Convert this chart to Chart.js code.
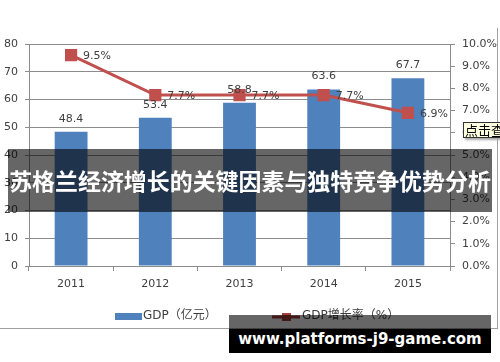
<!DOCTYPE html>
<html>
<head>
<meta charset="UTF-8">
<title>GDP</title>
<script src="https://cdn.jsdelivr.net/npm/chart.js"></script>
<style>
    body { margin: 0; background: #fff; }
    #wrap { position: relative; width: 500px; height: 362px; overflow: hidden; }
    #frame { position: absolute; left: -2px; top: 28px; width: 499px; height: 300px;
             border-right: 1px solid #a0a0a0; border-bottom: 1px solid #a0a0a0; }
    #tip { position: absolute; left: 463px; top: 122px; width: 50px; height: 14px;
           background: #ffffe1; border: 1px solid #333; box-shadow: 2px 2px 2px #aaa;
           font: 13px "Noto Sans CJK SC"; line-height: 14px; padding-left: 1px; color: #000; }
    #title { position: absolute; left: 8px; top: 149px; width: 484px; height: 63px;
             background: rgba(0,0,0,0.6); color: #fff; text-align: center;
             font-family: "Noto Sans CJK SC"; font-weight: bold; font-size: 23px;
             line-height: 63px; white-space: nowrap; overflow: hidden; }
    #mark1 { position: absolute; left: 229px; top: 315px; width: 262px; height: 14px;
             background: rgba(0,0,0,0.6); }
    #mark2 { position: absolute; left: 229px; top: 329px; width: 262px; height: 24px;
             background: #000; color: #fff; text-align: center;
             font: bold 15px "DejaVu Sans"; line-height: 20px; white-space: nowrap; }
</style>
</head>
<body>
<div id="wrap">
    <canvas id="gdpChart" width="500" height="362"></canvas>
    <div id="frame"></div>
    <div id="tip">点击查</div>
    <div id="title"><span id="titleText">苏格兰经济增长的关键因素与独特竞争优势分析</span></div>
    <div id="mark1"></div>
    <div id="mark2">www.platforms-j9-game.com</div>
</div>

<script>
    // data
    var years = ['2011', '2012', '2013', '2014', '2015'];
    var gdp = [48.4, 53.4, 58.8, 63.6, 67.7];
    var growth = [9.5, 7.7, 7.7, 7.7, 6.9];
    var gdpLabel = 'GDP（亿元）';
    var growthLabel = 'GDP增长率（%）';

    var blue = '#4f81bd';
    var red = '#c0504d';
    var txt = '#404040';
    var gridCol = '#8c8c8c';

    // shrink the overlay title so it fits its band
    (function() {
        var t = document.getElementById('titleText');
        var w = t.getBoundingClientRect().width;
        if (w > 482) {
            document.getElementById('title').style.fontSize = (23 * 482 / w) + 'px';
        }
    })();

    // value labels on bars and points
    var valueLabels = {
        id: 'valueLabels',
        afterDatasetsDraw: function(chart) {
            var ctx = chart.ctx;
            ctx.save();
            ctx.font = '11px "DejaVu Sans"';
            ctx.fillStyle = txt;
            ctx.textBaseline = 'middle';
            ctx.textAlign = 'center';
            chart.getDatasetMeta(0).data.forEach(function(bar, i) {
                ctx.fillText(gdp[i].toFixed(1), bar.x, bar.y - 13);
            });
            ctx.textAlign = 'left';
            chart.getDatasetMeta(1).data.forEach(function(pt, i) {
                ctx.fillText(growth[i].toFixed(1) + '%', pt.x + 12, pt.y + 1);
            });
            ctx.restore();
        }
    };

    // legend drawn under the x axis
    var bottomLegend = {
        id: 'bottomLegend',
        afterDraw: function(chart) {
            var ctx = chart.ctx;
            var y = 316;
            ctx.save();
            ctx.font = '12px "DejaVu Sans", "Noto Sans CJK SC"';
            ctx.textBaseline = 'middle';
            ctx.textAlign = 'left';
            // bar item
            var x = 115;
            ctx.fillStyle = chart.data.datasets[0].backgroundColor;
            ctx.fillRect(x, y - 3, 27, 7);
            ctx.fillStyle = txt;
            ctx.fillText(chart.data.datasets[0].label, x + 28, y);
            // line item
            x = 272;
            ctx.strokeStyle = '#a8403d';
            ctx.lineWidth = 3;
            ctx.beginPath();
            ctx.moveTo(x, y + 1);
            ctx.lineTo(x + 28, y + 1);
            ctx.stroke();
            ctx.fillStyle = '#a8403d';
            ctx.fillRect(x + 10, y - 3, 9, 8);
            ctx.fillStyle = txt;
            ctx.fillText(chart.data.datasets[1].label, x + 30, y);
            ctx.restore();
        }
    };

    var ctx = document.getElementById('gdpChart').getContext('2d');
    var chart = new Chart(ctx, {
        data: {
            labels: years,
            datasets: [{
                type: 'bar',
                label: gdpLabel,
                data: gdp,
                backgroundColor: blue,
                yAxisID: 'y',
                categoryPercentage: 1,
                barPercentage: 0.39,
                order: 1
            }, {
                type: 'line',
                label: growthLabel,
                data: growth,
                borderColor: red,
                backgroundColor: red,
                borderWidth: 3,
                pointStyle: 'rect',
                pointRadius: 6.5,
                pointBackgroundColor: red,
                pointBorderColor: red,
                yAxisID: 'y1',
                order: 0
            }]
        },
        options: {
            responsive: false,
            animation: false,
            layout: { padding: { top: 44, bottom: 70, left: 0, right: 0 } },
            plugins: { legend: { display: false }, tooltip: { enabled: false } },
            scales: {
                x: {
                    offset: true,
                    grid: { offset: true, drawOnChartArea: false, tickLength: 5, color: gridCol },
                    border: { color: gridCol },
                    ticks: { color: txt, font: { family: 'DejaVu Sans', size: 11 }, padding: 7 },
                    afterFit: function(s) { s.height = 26; }
                },
                y: {
                    position: 'left',
                    min: 0, max: 80,
                    ticks: { stepSize: 10, color: txt, font: { family: 'DejaVu Sans', size: 11 }, padding: 7 },
                    grid: { color: gridCol, tickLength: 4 },
                    border: { color: gridCol },
                    afterFit: function(s) { s.width = 29; }
                },
                y1: {
                    position: 'right',
                    min: 0, max: 10,
                    ticks: {
                        stepSize: 1, color: txt, font: { family: 'DejaVu Sans', size: 11 }, padding: 7,
                        callback: function(v) { return v.toFixed(1) + '%'; }
                    },
                    grid: { drawOnChartArea: false, color: gridCol, tickLength: 5 },
                    border: { color: gridCol },
                    afterFit: function(s) { s.width = 50; }
                }
            }
        },
        plugins: [valueLabels, bottomLegend]
    });
</script>
</body>
</html>
